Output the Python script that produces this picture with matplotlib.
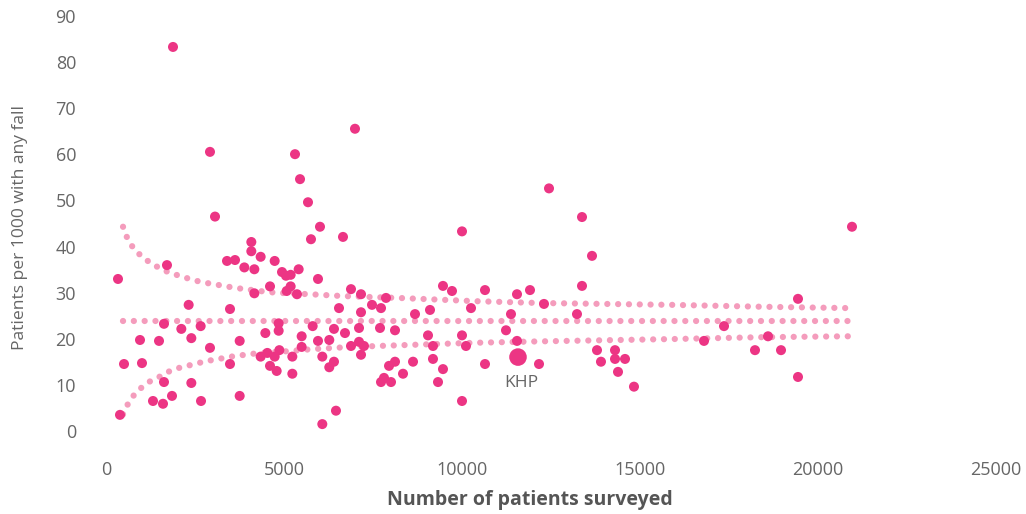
import matplotlib
matplotlib.use("Agg")
import matplotlib.pyplot as plt

# Trust data: number of patients surveyed vs patients per 1000 with any fall
surveyed = [337, 393, 506, 955, 1011, 1489, 1320, 1601, 1629, 1629, 1713, 1854,
            2116, 2322, 2397, 2397, 2659, 2669, 2921, 3483, 3483, 3399, 3624, 3755,
            3755, 3886, 4082, 4082, 4167, 4167, 4344, 4344, 4476, 4532, 4607, 4607,
            4738, 4738, 4794, 4850, 4850, 4869, 4944, 5056, 5075, 5187, 5187, 5234,
            5234, 5365, 5412, 5496, 5496, 5805, 5955, 5955, 6076, 6076, 6272, 6272,
            6404, 6404, 6460, 6545, 6713, 6882, 6882,
            1882, 2921, 3062, 5309, 5450, 5674, 6011, 5758, 6657,
            6994, 10000, 12444, 13371, 13652,
            7163, 7163, 7472, 7725, 7865, 7107, 7697, 8118, 7107, 7247, 7163, 7950,
            8118, 7725, 7809, 8006, 8343, 8624, 8680, 9045, 9101, 9185, 9185, 9466,
            9719, 9466, 9326, 10000, 10112, 10000, 10253, 10646, 10646, 11236, 11376,
            11545, 11545, 11910, 12163, 12303, 13230, 13371, 13792, 13904, 14298,
            14298, 14382, 14579, 14831,
            19438, 17360, 16798, 18596, 18230, 18961, 19438, 20955]
falls = [33.0, 3.6, 14.6, 19.8, 14.8, 19.6, 6.6, 6.0, 10.7, 23.3, 36.0, 7.7,
         22.2, 27.4, 20.2, 10.5, 22.8, 6.6, 18.1, 26.5, 14.6, 36.9, 37.1, 19.6,
         7.7, 35.5, 41.0, 39.0, 35.1, 29.9, 37.8, 16.2, 21.3, 17.0, 31.4, 14.2,
         36.9, 16.2, 13.1, 23.4, 21.8, 17.6, 34.5, 33.7, 30.4, 33.9, 31.4, 16.2,
         12.5, 29.7, 35.1, 20.6, 18.3, 22.8, 33.0, 19.6, 16.2, 1.6, 19.8, 13.9,
         15.1, 22.2, 4.5, 26.7, 21.3, 18.5, 30.8,
         83.2, 60.5, 46.5, 60.0, 54.6, 49.6, 44.3, 41.6, 42.1,
         65.5, 43.3, 52.6, 46.4, 38.0,
         29.7, 25.8, 27.4, 26.7, 28.9, 22.4, 22.4, 21.9, 19.4, 18.5, 16.6, 14.2,
         15.1, 10.7, 11.6, 10.7, 12.5, 15.1, 25.4, 20.8, 26.3, 18.5, 15.7, 31.5,
         30.4, 13.5, 10.7, 20.8, 18.5, 6.6, 26.7, 30.6, 14.6, 21.9, 25.4,
         29.7, 19.6, 30.6, 14.6, 27.6, 25.4, 31.5, 17.6, 15.1, 17.6,
         15.7, 12.9, 15.7, 9.7,
         28.7, 22.8, 19.6, 20.6, 17.6, 17.6, 11.8, 44.3]

khp_x = [11573]
khp_y = [16.1]
khp_label = "KHP"

# Funnel limits
upper_x = [478, 618, 787, 1011, 1264, 1517, 1798, 2107, 2388, 2697, 3006, 3315,
           3596, 3905, 4522, 4831, 5730, 6657, 8202, 10365, 12191, 15899, 18371, 20843]
upper_y = [44.3, 41.4, 39.5, 37.8, 36.4, 35.3, 34.3, 33.6, 32.9, 32.3, 31.9, 31.5,
           31.1, 30.8, 30.2, 30.0, 29.7, 29.3, 28.9, 28.2, 27.8, 27.4, 27.0, 26.7]
lower_x = [478, 618, 787, 1011, 1264, 1545, 1798, 2107, 2388, 2697, 3006, 3315,
           3596, 3905, 4213, 5140, 5758, 6657, 7612, 10365, 12191, 15899, 18371, 20843]
lower_y = [3.7, 6.0, 7.9, 9.6, 11.0, 12.0, 13.1, 13.9, 14.4, 15.0, 15.5, 15.9,
           16.3, 16.6, 16.9, 17.4, 17.8, 18.2, 18.5, 19.2, 19.5, 20.0, 20.4, 20.6]
mean_x = [478, 20843]
mean_y = [23.9, 23.9]

x_ticks = [0, 5000, 10000, 15000, 20000, 25000]
y_ticks = [0, 10, 20, 30, 40, 50, 60, 70, 80, 90]

dot_color = "#ec3584"
line_color = "#f49cbc"
text_color = "#666666"

plt.rcParams['font.family'] = ['Open Sans', 'DejaVu Sans']

W, H = 1026, 514
fig = plt.figure(figsize=(W / 100, H / 100), dpi=100)
# axes pixel box: left 90, right 1020, top 10, bottom 450
ax = fig.add_axes([90 / W, 1 - 450 / H, (1020 - 90) / W, (450 - 10) / H])

px_per_x = 0.0356
x0_px = 106
px_per_y = 4.622
y0_px = 431.5
ax.set_xlim((90 - x0_px) / px_per_x, (1020 - x0_px) / px_per_x)
ax.set_ylim((y0_px - 450) / px_per_y, (y0_px - 10) / px_per_y)

lw = 4.5
for xs, ys in [(upper_x, upper_y), (mean_x, mean_y), (lower_x, lower_y)]:
    ax.plot(xs, ys, color=line_color, linewidth=lw, linestyle=(0, (0.01, 1.72)),
            dash_capstyle='round', zorder=1)

ax.scatter(surveyed, falls, s=52, color=dot_color, edgecolors='none', zorder=3)
ax.scatter(khp_x, khp_y, s=160, color=dot_color, edgecolors='none', zorder=4)
ax.text(khp_x[0] + 100, khp_y[0] - 5.5, khp_label, ha='center', va='center',
        fontsize=12.5, color=text_color, zorder=5)

ax.set_xticks(x_ticks)
ax.set_yticks(y_ticks)
ax.set_xticklabels([str(v) for v in x_ticks])
ax.set_yticklabels([str(v) for v in y_ticks])
ax.tick_params(axis='both', length=0, labelsize=13, labelcolor=text_color)
ax.tick_params(axis='y', pad=10)
ax.tick_params(axis='x', pad=8)
for s in ax.spines.values():
    s.set_visible(False)

fig.text(530 / W, 1 - 500 / H, "Number of patients surveyed", fontsize=14,
         fontweight='bold', color="#555555", ha='center', va='center')
fig.text(20 / W, 1 - 228 / H, "Patients per 1000 with any fall", fontsize=12.6,
         color=text_color, ha='center', va='center', rotation=90)

fig.savefig("out.png", dpi=100)
